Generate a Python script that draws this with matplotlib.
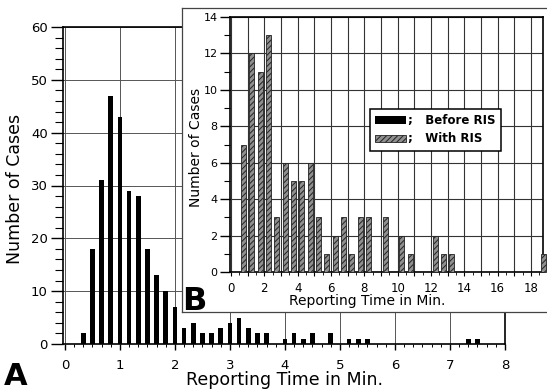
import matplotlib
matplotlib.use('Agg')
import matplotlib.pyplot as plt
from matplotlib.ticker import MultipleLocator, FuncFormatter
import numpy as np

# ---------------- data ----------------
# Panel A: Before RIS (10-second bins, given in seconds)
before_seconds = [20, 30, 40, 50, 60, 70, 80, 90, 100, 110, 120,
                  130, 140, 150, 160, 170, 180, 190, 200, 210, 220,
                  240, 250, 260, 270, 290, 310, 320, 330, 440, 450]
before_counts = [2, 18, 31, 47, 43, 29, 28, 18, 13, 10, 7,
                 3, 4, 2, 2, 3, 4, 5, 3, 2, 2,
                 1, 2, 1, 2, 2, 1, 1, 1, 1, 1]

# Panel B: With RIS (30-second bins, minutes)
with_minutes = [0.75, 1.25, 1.75, 2.25, 2.75, 3.25, 3.75, 4.25, 4.75, 5.25,
                5.75, 6.25, 6.75, 7.25, 7.75, 8.25, 9.25, 10.25, 10.75,
                12.25, 12.75, 13.25, 18.75]
with_counts = [7, 12, 11, 13, 3, 6, 5, 5, 6, 3,
               1, 2, 3, 1, 3, 3, 3, 2, 1,
               2, 1, 1, 1]

a_xticks = [0, 1, 2, 3, 4, 5, 6, 7, 8]
a_yticks = [0, 10, 20, 30, 40, 50, 60]
b_xticks = [0, 2, 4, 6, 8, 10, 12, 14, 16, 18]
b_yticks = [0, 2, 4, 6, 8, 10, 12, 14]

xlabel = "Reporting Time in Min."
ylabel = "Number of Cases"
legend_labels = [";   Before RIS", ";   With RIS"]

# ---------------- figure ----------------
plt.rcParams['font.family'] = ['DejaVu Sans']
plt.rcParams['hatch.linewidth'] = 0.7
W, H = 547, 392
fig = plt.figure(figsize=(W / 100, H / 100), dpi=100)
fig.patch.set_facecolor('white')

def fx(px):
    return px / W

def fy(py):
    return 1 - py / H

# Panel A axes
axA = fig.add_axes([fx(63), fy(344), fx(505) - fx(63), fy(27) - fy(344)])
before_min = np.array(before_seconds) / 60.0
axA.bar(before_min, before_counts, width=0.085, color='black', zorder=3)
axA.set_xlim(-0.036, 8)
axA.set_ylim(0, 60)
axA.set_xticks(a_xticks)
axA.set_yticks(a_yticks)
axA.xaxis.set_minor_locator(MultipleLocator(1 / 6))
axA.yaxis.set_minor_locator(MultipleLocator(2))
axA.tick_params(axis='y', which='major', direction='out', length=9, width=1, labelsize=9.5, pad=2)
axA.tick_params(axis='y', which='minor', direction='out', length=5.5, width=0.8)
axA.tick_params(axis='x', which='major', direction='out', length=4.5, width=1, labelsize=9.5, pad=6)
axA.tick_params(axis='x', which='minor', direction='out', length=2.5, width=0.7)
axA.grid(True, which='major', color='#555555', linewidth=0.7, zorder=0)
for s in axA.spines.values():
    s.set_linewidth(1.2)
axA.set_xlabel(xlabel, fontsize=12.5)
axA.set_ylabel(ylabel, fontsize=12.5)
axA.xaxis.set_label_coords(0.502, -0.085)
axA.yaxis.set_label_coords(-0.088, 0.49)

# inset white box
axBox = fig.add_axes([fx(182), fy(312), 1.05 - fx(182), fy(8) - fy(312)])
axBox.set_xticks([])
axBox.set_yticks([])
axBox.set_facecolor('white')
for s in axBox.spines.values():
    s.set_linewidth(0.9)
    s.set_color('#444444')

# Panel B axes
axB = fig.add_axes([fx(230), fy(272), fx(543) - fx(230), fy(17) - fy(272)])
axB.set_facecolor('white')
barsB = axB.bar(with_minutes, with_counts, width=0.3, facecolor='#8f8f8f',
                edgecolor='#222222', linewidth=0.6, hatch='//////', zorder=3,
                clip_on=False)
axB.set_xlim(-0.06, 18.72)
axB.set_ylim(0, 14)
axB.xaxis.set_major_locator(MultipleLocator(1))
axB.xaxis.set_major_formatter(FuncFormatter(lambda v, p: f"{int(round(v))}" if int(round(v)) in b_xticks else ""))
axB.xaxis.set_minor_locator(MultipleLocator(0.5))
axB.set_yticks(b_yticks)
axB.yaxis.set_minor_locator(MultipleLocator(1))
axB.tick_params(axis='y', which='major', direction='out', length=7, width=1, labelsize=8, pad=2)
axB.tick_params(axis='y', which='minor', direction='out', length=4.5, width=0.8)
axB.tick_params(axis='x', which='major', direction='out', length=3, width=0.8, labelsize=8.5, pad=4)
axB.tick_params(axis='x', which='minor', direction='out', length=2, width=0.6)
axB.grid(True, which='major', color='#333333', linewidth=0.8, zorder=0)
for s in axB.spines.values():
    s.set_linewidth(1.2)
axB.set_xlabel(xlabel, fontsize=10)
axB.set_ylabel(ylabel, fontsize=10)
axB.xaxis.set_label_coords(0.438, -0.085)
axB.yaxis.set_label_coords(-0.085, 0.49)

# legend
barsA_handle = axA.patches[0]
leg = axB.legend([barsA_handle, barsB.patches[0]], legend_labels,
                 loc='upper left', bbox_to_anchor=(0.447, 0.64),
                 frameon=True, fancybox=False, framealpha=1,
                 edgecolor='black',
                 prop={'weight': 'bold', 'size': 8.5},
                 handlelength=2.6, handleheight=0.6, handletextpad=0.2,
                 labelspacing=0.45, borderpad=0.45, borderaxespad=0)
leg.get_frame().set_linewidth(1.1)
leg.set_zorder(10)

# panel letters
fig.text(fx(4), fy(391), "A", fontsize=22, fontweight='bold', va='bottom', ha='left')
fig.text(fx(182), fy(310), "B", fontsize=23, fontweight='bold', va='baseline', ha='left')

fig.savefig('out.png', dpi=100, facecolor='white')
